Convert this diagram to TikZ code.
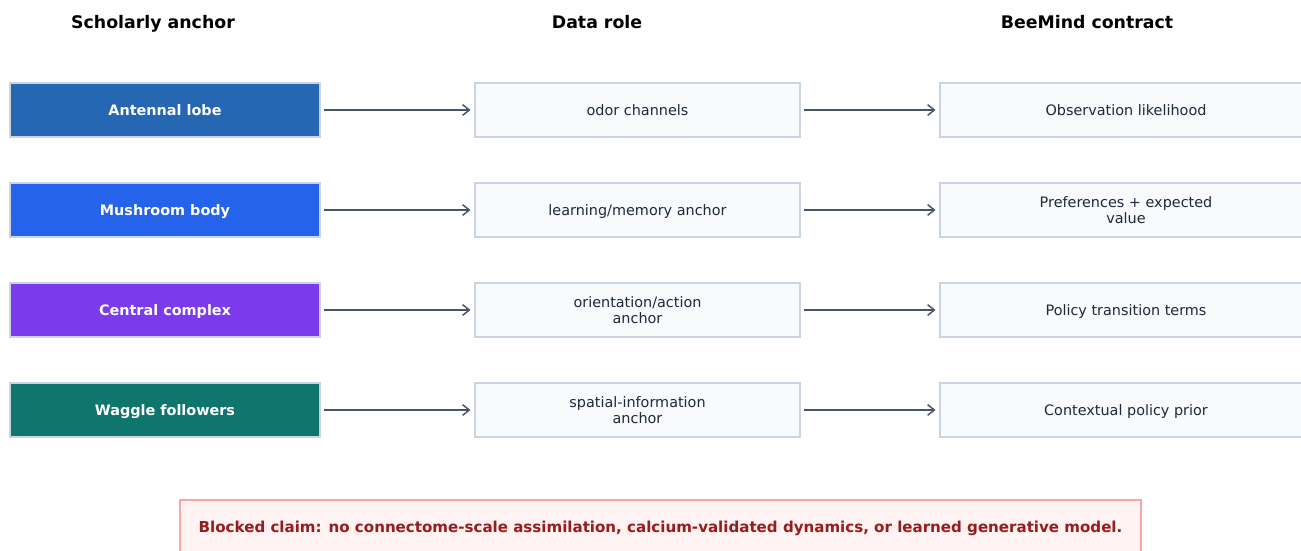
\documentclass[tikz,border=0pt]{standalone}
\usepackage{fontspec}
\setmainfont{DejaVu Sans}
\usetikzlibrary{arrows.meta}
\definecolor{cAL}{HTML}{2667B4}
\definecolor{cMB}{HTML}{2563EB}
\definecolor{cCC}{HTML}{7C3AED}
\definecolor{cWF}{HTML}{0F766E}
\definecolor{bord}{HTML}{CBD5E1}
\definecolor{midfill}{HTML}{F8FAFC}
\definecolor{arr}{HTML}{475569}
\definecolor{txt}{HTML}{1E293B}
\definecolor{redfill}{HTML}{FEF2F2}
\definecolor{redbord}{HTML}{FCA5A5}
\definecolor{redtxt}{HTML}{991B1B}
\tikzset{
  title/.style={font=\fontsize{13}{15}\selectfont\bfseries, text=black, anchor=base},
  boxbase/.style={line width=0.8pt, minimum height=40.5pt, inner sep=0pt, text depth=0pt, align=center},
  anchorbox/.style={boxbase, draw=bord, minimum width=232.5pt, text=white, font=\fontsize{10.8}{12}\selectfont\bfseries},
  rolebox/.style={boxbase, draw=bord, fill=midfill, minimum width=243.75pt, text=txt, font=\fontsize{10.8}{12}\selectfont},
  contractbox/.style={boxbase, draw=bord, fill=midfill, minimum width=279pt, text=txt, font=\fontsize{10.8}{12}\selectfont},
  conn/.style={draw=arr, line width=1.1pt, -{Straight Barb[length=5pt,width=8pt,line width=1.1pt]}},
  blocked/.style={boxbase, draw=redbord, fill=redfill, minimum width=720.75pt, text=redtxt, font=\fontsize{11.3}{13}\selectfont\bfseries}
}
\begin{document}
\begin{tikzpicture}[x=0.75pt, y=-0.75pt]
\useasboundingbox (0,0) rectangle (1301,550);
\clip (0,0) rectangle (1301,550);
\node[title] (t1) at (153,28) {Scholarly anchor};
\node[title] (t2) at (597,28) {Data role};
\node[title] (t3) at (1087,28) {BeeMind contract};

\node[anchorbox, fill=cAL] (a1) at (165,110) {Antennal lobe};
\node[anchorbox, fill=cMB] (a2) at (165,210) {Mushroom body};
\node[anchorbox, fill=cCC] (a3) at (165,310) {Central complex};
\node[anchorbox, fill=cWF] (a4) at (165,410) {Waggle followers};

\node[rolebox] (r1) at (637.5,110) {odor channels};
\node[rolebox] (r2) at (637.5,210) {learning/memory anchor};
\node[rolebox] (r3) at (637.5,310) {orientation/action\\anchor};
\node[rolebox] (r4) at (637.5,410) {spatial-information\\anchor};

\node[contractbox] (c1) at (1126,110) {Observation likelihood};
\node[contractbox] (c2) at (1126,210) {Preferences + expected\\value};
\node[contractbox] (c3) at (1126,310) {Policy transition terms};
\node[contractbox] (c4) at (1126,410) {Contextual policy prior};

\foreach \i in {1,2,3,4}{
  \draw[conn] ([xshift=2.25pt]a\i.east) -- ([xshift=-3pt]r\i.west);
  \draw[conn] ([xshift=2.25pt]r\i.east) -- ([xshift=-3pt]c\i.west);
}

\node[blocked] (b) at (660.5,527) {Blocked claim: no connectome-scale assimilation, calcium-validated dynamics, or learned generative model.};
\end{tikzpicture}
\end{document}
